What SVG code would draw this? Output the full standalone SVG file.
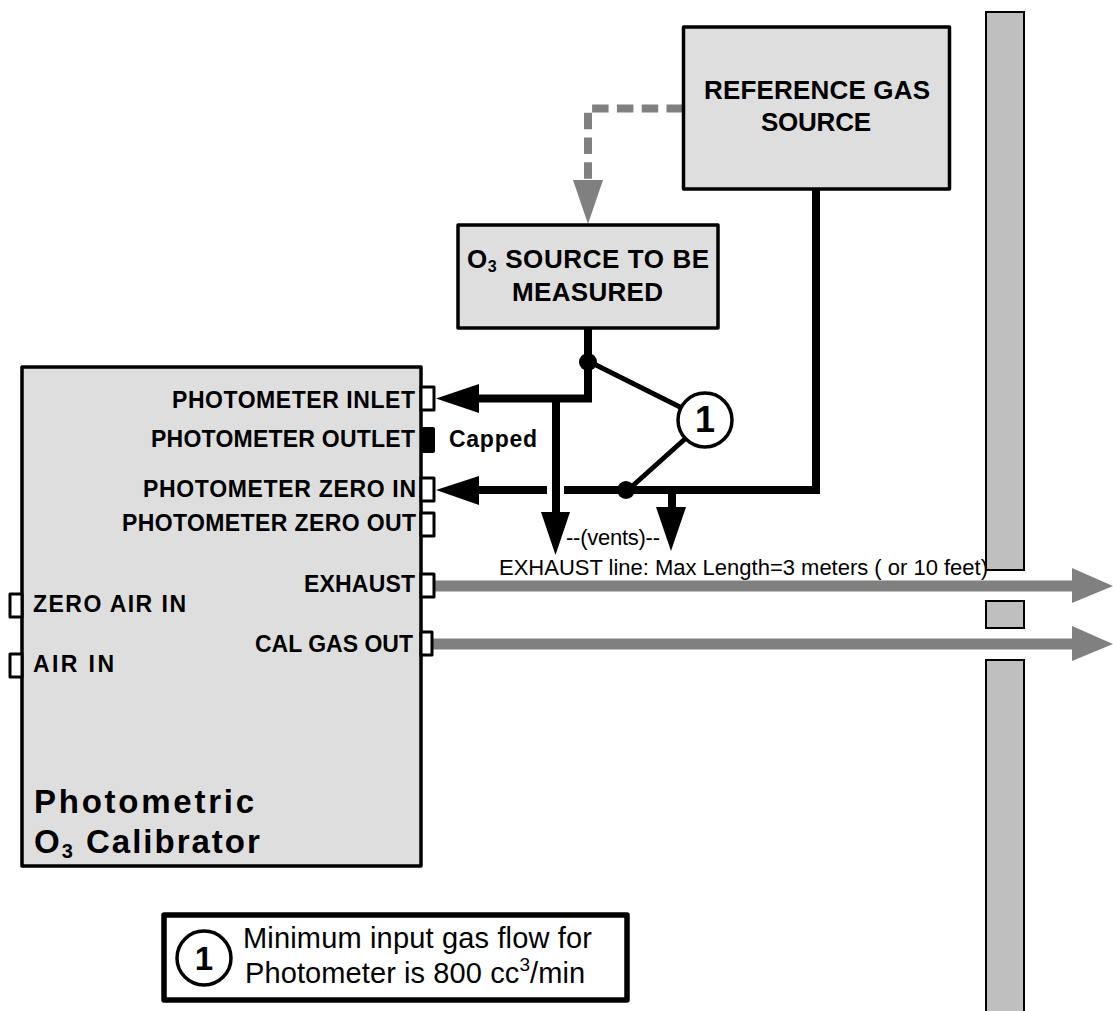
<svg xmlns="http://www.w3.org/2000/svg" width="1113" height="1011" viewBox="0 0 1113 1011">
<style>
text{font-family:"Liberation Sans",Arial,sans-serif;fill:#000}
.box{fill:#dedede;stroke:#000;stroke-width:3.5;stroke-linejoin:round}
.wall{fill:#bfbfbf;stroke:#000;stroke-width:2}
.port{fill:#fff;stroke:#000;stroke-width:3;stroke-linejoin:round}
.lbl2{font-size:23px;font-weight:bold}
.title{font-size:26px;font-weight:bold}
.wire{fill:none;stroke:#000;stroke-width:8}
.thin{fill:none;stroke:#000;stroke-width:5}
.gray{fill:none;stroke:#808080;stroke-width:11}
.num{font-size:36px;font-weight:bold;text-anchor:middle}
.note{font-size:29px}
.small{font-size:22px}
.big{font-size:33px;font-weight:bold}
</style>
<g id="walls">
<rect class="wall" x="986" y="12" width="38" height="558"/>
<rect class="wall" x="986" y="601" width="38" height="27"/>
<rect class="wall" x="986" y="660" width="38" height="355"/>
</g>
<g id="connectors">
<path d="M683 108.5H588V180" fill="none" stroke="#808080" stroke-width="8" stroke-dasharray="16.5 8.3"/>
<polygon points="573,180 603,180 588,224" fill="#808080"/>
<path class="wire" d="M588 328V398.500H478"/>
<polygon points="436,398.500 479,384 479,413"/>
<path class="wire" d="M556 398.500V514"/>
<polygon points="541,512 570,512 555.500,555"/>
<path class="wire" d="M816 189V490H564M547 490H478"/>
<polygon points="436,490 479,476 479,505"/>
<path class="wire" d="M672 490V510"/>
<polygon points="656,507 686,507 671,551"/>
<circle cx="588" cy="362" r="9"/>
<circle cx="626" cy="490" r="9"/>
<path class="thin" d="M590 362L682 408M628 490L686 438"/>
<path class="gray" d="M435 586H1074"/>
<polygon points="1072,568 1113,586 1072,603" fill="#808080"/>
<path class="gray" d="M433 644H1074"/>
<polygon points="1072,626 1113,644 1072,661" fill="#808080"/>
</g>
<g id="reference-gas-source">
<rect class="box" x="683.5" y="27" width="266" height="162"/>
<text class="title" x="704" y="99" textLength="226">REFERENCE GAS</text>
<text class="title" x="761" y="131" textLength="110">SOURCE</text>
</g>
<g id="o3-source">
<rect class="box" x="458" y="225" width="260" height="103"/>
<text class="title" x="467" y="268" letter-spacing="0.6">O<tspan font-size="16" dy="4">3</tspan><tspan dy="-4"> SOURCE TO BE</tspan></text>
<text class="title" x="512" y="301" textLength="151">MEASURED</text>
</g>
<g id="calibrator">
<rect class="box" x="22" y="367" width="399" height="499"/>
<rect class="port" x="421" y="387" width="13" height="23"/>
<rect x="420" y="427" width="15" height="26" rx="2"/>
<rect class="port" x="421" y="478" width="13" height="23"/>
<rect class="port" x="421" y="513" width="13" height="23"/>
<rect class="port" x="421" y="574" width="13" height="23"/>
<rect class="port" x="421" y="632" width="11" height="23"/>
<rect class="port" x="10" y="594" width="12" height="23"/>
<rect class="port" x="10" y="654" width="12" height="23"/>
<text class="lbl2" x="172" y="408" textLength="243">PHOTOMETER INLET</text>
<text class="lbl2" x="151" y="447" textLength="264">PHOTOMETER OUTLET</text>
<text class="lbl2" x="143" y="497" textLength="273">PHOTOMETER ZERO IN</text>
<text class="lbl2" x="122" y="531" textLength="294">PHOTOMETER ZERO OUT</text>
<text class="lbl2" x="304" y="592" textLength="111">EXHAUST</text>
<text class="lbl2" x="255" y="652" textLength="158">CAL GAS OUT</text>
<text class="lbl2" x="33" y="612" textLength="153">ZERO AIR IN</text>
<text class="lbl2" x="33" y="672" textLength="81">AIR IN</text>
<text class="big" x="34" y="813" textLength="220">Photometric</text>
<text class="big" x="34" y="853" letter-spacing="2">O<tspan font-size="20" dy="5">3</tspan><tspan dy="-5"> Calibrator</tspan></text>
</g>
<g id="labels">
<text x="449" y="447" font-size="23" font-weight="bold" textLength="88">Capped</text>
<text class="small" x="566" y="545" textLength="94">--(vents)--</text>
<text class="small" x="499" y="575" textLength="489">EXHAUST line: Max Length=3 meters ( or 10 feet)</text>
</g>
<g id="callout">
<circle cx="705" cy="420" r="27" fill="#fff" stroke="#000" stroke-width="3.5"/>
<text class="num" x="705" y="432">1</text>
</g>
<g id="legend">
<rect x="164" y="915" width="463" height="85" fill="#fff" stroke="#000" stroke-width="5.500" stroke-linejoin="round"/>
<circle cx="204" cy="958" r="27" fill="#fff" stroke="#000" stroke-width="3.5"/>
<text class="num" x="204" y="970" style="font-size:33px">1</text>
<text class="note" x="243" y="948" textLength="349">Minimum input gas flow for</text>
<text class="note" x="245" y="983" letter-spacing="0.1">Photometer is 800 cc<tspan font-size="19" dy="-12">3</tspan><tspan dy="12">/min</tspan></text>
</g>
</svg>
